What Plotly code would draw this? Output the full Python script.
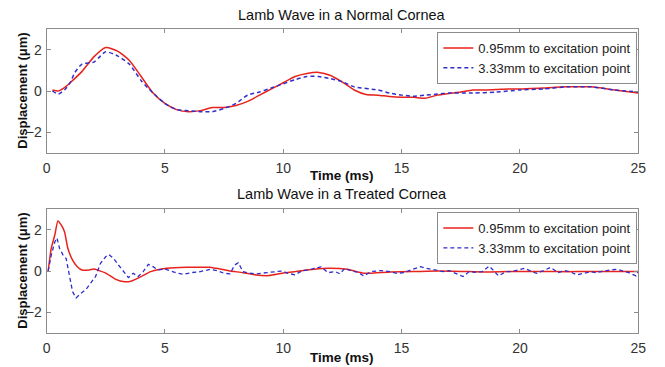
import plotly.graph_objects as go

# ---- Data: Normal cornea ----
t_norm_red = [0.25, 0.5, 0.8, 1.0, 1.5, 2.0, 2.5, 3.0, 3.5, 4.0, 4.5, 5.0, 5.5, 6.0, 6.5, 7.0, 7.5, 8.0, 8.5, 9.0,
              9.5, 10.0, 10.5, 11.0, 11.5, 12.0, 12.5, 13.0, 13.5, 14.0, 14.5, 15.0, 15.5, 16.0, 16.5, 17.0, 17.5,
              18.0, 18.5, 19.0, 19.5, 20.0, 21.0, 22.0, 23.0, 24.0, 25.0]
d_norm_red = [0.05, 0.0, 0.2, 0.4, 0.95, 1.65, 2.1, 1.93, 1.48, 0.7, -0.1, -0.6, -0.9, -1.0, -0.95, -0.8, -0.8, -0.7,
              -0.5, -0.2, 0.1, 0.4, 0.7, 0.85, 0.9, 0.75, 0.43, 0.05, -0.17, -0.2, -0.27, -0.3, -0.3, -0.35, -0.2,
              -0.12, -0.05, 0.05, 0.05, 0.07, 0.1, 0.1, 0.15, 0.2, 0.2, 0.05, -0.1]

t_norm_blue = [0.25, 0.5, 0.8, 1.0, 1.2, 1.5, 2.0, 2.2, 2.5, 3.0, 3.5, 4.0, 4.5, 5.0, 5.5, 6.0, 6.5, 7.0, 7.5, 8.0,
               8.5, 9.0, 9.5, 10.0, 10.5, 11.0, 11.5, 12.0, 12.5, 13.0, 14.0, 14.5, 15.0, 15.5, 16.0, 16.5, 17.0,
               18.0, 19.0, 20.0, 21.0, 22.0, 23.0, 24.0, 25.0]
d_norm_blue = [0.0, -0.15, 0.1, 0.4, 0.9, 1.3, 1.4, 1.6, 1.9, 1.7, 1.3, 0.5, -0.1, -0.6, -0.9, -0.95, -1.0, -1.0,
               -0.85, -0.6, -0.2, -0.05, 0.15, 0.35, 0.55, 0.7, 0.7, 0.6, 0.45, 0.2, 0.05, -0.1, -0.2, -0.25, -0.2,
               -0.15, -0.1, -0.1, -0.05, 0.05, 0.1, 0.2, 0.2, 0.05, -0.05]

# ---- Data: Treated cornea ----
t_treat_red = [0.07, 0.2, 0.35, 0.48, 0.62, 0.76, 0.9, 1.1, 1.3, 1.5, 1.8, 2.0, 2.2, 2.5, 2.9, 3.3, 3.6, 4.0, 4.4,
               4.85, 5.4, 5.95, 6.5, 6.9, 7.75, 8.3, 8.85, 9.4, 9.95, 10.5, 11.3, 11.9, 12.7, 13.4, 14.5, 15.5,
               16.5, 17.5, 18.5, 19.5, 20.5, 21.5, 22.5, 23.5, 24.5, 25.0]
d_treat_red = [0.0, 1.1, 1.74, 2.42, 2.23, 1.9, 1.1, 0.53, 0.21, 0.05, 0.05, 0.1, 0.03, -0.1, -0.39, -0.52, -0.48,
               -0.27, -0.03, 0.1, 0.16, 0.18, 0.18, 0.18, 0.0, -0.08, -0.19, -0.22, -0.11, -0.03, 0.08, 0.13, 0.08,
               -0.11, -0.05, -0.03, 0.0, -0.02, -0.05, -0.03, -0.02, -0.03, -0.03, -0.03, -0.03, -0.03]

t_treat_blue = [0.07, 0.2, 0.35, 0.44, 0.55, 0.7, 0.83, 0.97, 1.1, 1.25, 1.45, 1.66, 1.87, 2.07, 2.28, 2.5, 2.63,
                2.84, 3.04, 3.25, 3.46, 3.66, 3.87, 4.08, 4.3, 4.5, 4.7, 5.0, 5.25, 5.53, 5.8, 6.1, 6.5, 6.9, 7.2,
                7.5, 7.75, 7.95, 8.1, 8.3, 8.6, 8.85, 9.3, 9.7, 9.95, 10.2, 10.5, 10.8, 11.1, 11.3, 11.6, 11.9,
                12.2, 12.4, 12.6, 12.9, 13.15, 13.4, 13.7, 14.1, 14.5, 14.8, 15.1, 15.4, 15.8, 16.05, 16.5, 16.75,
                17.0, 17.3, 17.6, 17.85, 18.1, 18.4, 18.7, 19.1, 19.4, 19.65, 19.9, 20.2, 20.5, 20.7, 21.0, 21.3,
                21.6, 21.9, 22.1, 22.4, 22.7, 23.0, 23.2, 23.5, 23.8, 24.1, 24.3, 24.6, 24.9, 25.0]
d_treat_blue = [0.0, 0.77, 1.4, 1.6, 1.1, 0.77, 0.6, -0.19, -1.0, -1.3, -1.08, -0.9, -0.6, -0.27, 0.37, 0.69, 0.8,
                0.6, 0.29, 0.0, -0.32, -0.11, -0.27, -0.03, 0.32, 0.21, 0.05, 0.1, 0.0, -0.11, -0.16, -0.08,
                -0.03, 0.08, 0.02, -0.11, -0.14, 0.29, 0.4, -0.03, -0.11, -0.14, -0.08, -0.03, 0.0, -0.11, -0.19,
                0.02, 0.05, 0.13, 0.2, -0.08, -0.03, -0.14, 0.13, 0.0, -0.06, -0.24, -0.03, 0.02, -0.03, -0.11,
                -0.08, 0.05, 0.21, 0.13, 0.05, -0.03, 0.02, -0.11, -0.27, -0.03, -0.06, -0.03, 0.24, -0.24,
                -0.03, -0.03, 0.05, 0.13, -0.03, -0.11, 0.02, 0.18, -0.08, 0.02, -0.03, -0.19, -0.11, -0.03,
                -0.08, 0.0, 0.05, 0.08, 0.02, -0.08, -0.24, -0.03]

x_ticks = [0, 5, 10, 15, 20, 25]
y_ticks = [-2, 0, 2]
label_red = "0.95mm to excitation point"
label_blue = "3.33mm to excitation point"
titles = ["Lamb Wave in a Normal Cornea", "Lamb Wave in a Treated Cornea"]
x_label = "Time (ms)"
y_label = "Displacement (\u03bcm)"

RED = "#e8221c"
BLUE = "#2e2ecc"
FONT = "Liberation Sans, Arial, sans-serif"
W, H = 665, 367

fig = go.Figure()
fig.add_trace(go.Scatter(x=t_norm_red, y=d_norm_red, mode="lines", name=label_red,
                         line=dict(color=RED, width=1.5, shape="spline", smoothing=0.6),
                         xaxis="x", yaxis="y", legend="legend"))
fig.add_trace(go.Scatter(x=t_norm_blue, y=d_norm_blue, mode="lines", name=label_blue,
                         line=dict(color=BLUE, width=1.5, dash="4px,3px", shape="spline", smoothing=0.6),
                         xaxis="x", yaxis="y", legend="legend"))
fig.add_trace(go.Scatter(x=t_treat_red, y=d_treat_red, mode="lines", name=label_red,
                         line=dict(color=RED, width=1.5, shape="spline", smoothing=0.5),
                         xaxis="x2", yaxis="y2", legend="legend2"))
fig.add_trace(go.Scatter(x=t_treat_blue, y=d_treat_blue, mode="lines", name=label_blue,
                         line=dict(color=BLUE, width=1.3, dash="4px,3px"),
                         xaxis="x2", yaxis="y2", legend="legend2"))

x0, x1 = 43.3 / W, 646 / W
top_dom = [1 - 153 / H, 1 - 29 / H]
bot_dom = [1 - 333 / H, 1 - 209 / H]

axis_common = dict(showline=True, linecolor="#8c8c8c", linewidth=1, mirror="ticks",
                   ticks="inside", ticklen=4, tickcolor="#8c8c8c", showgrid=False, zeroline=False,
                   tickfont=dict(family=FONT, size=14, color="#333333"))

xa = dict(axis_common, range=[0, 25], tickvals=x_ticks, domain=[x0, x1], ticklabelstandoff=2)
ya = dict(axis_common, range=[-3, 3], tickvals=y_ticks, domain=top_dom, ticklabelstandoff=1)

legend_common = dict(xanchor="right", yanchor="top", bgcolor="white", bordercolor="#8c8c8c",
                     borderwidth=1, font=dict(family=FONT, size=13, color="#222222"),
                     tracegroupgap=0, itemwidth=30)

fig.update_layout(
    width=W, height=H,
    margin=dict(l=0, r=0, t=0, b=0),
    paper_bgcolor="white", plot_bgcolor="white",
    xaxis=dict(xa, anchor="y"),
    yaxis=dict(ya, anchor="x"),
    xaxis2=dict(xa, anchor="y2"),
    yaxis2=dict(ya, domain=bot_dom, anchor="x2"),
    legend=dict(legend_common, x=645 / W, y=1 - 32 / H),
    legend2=dict(legend_common, x=645 / W, y=1 - 212 / H),
    showlegend=True,
)

cx = (x0 + x1) / 2
ann = []
for title, ty in [(titles[0], 15), (titles[1], 194)]:
    ann.append(dict(text=title, x=cx, y=1 - ty / H, xref="paper", yref="paper", showarrow=False,
                    xanchor="center", yanchor="middle", font=dict(family=FONT, size=14.5, color="#111111")))
for ly in [175, 357]:
    ann.append(dict(text="<b>" + x_label + "</b>", x=cx, y=1 - ly / H, xref="paper", yref="paper",
                    showarrow=False, xanchor="center", yanchor="middle",
                    font=dict(family=FONT, size=13.5, color="#111111")))
for cy in [91, 271]:
    ann.append(dict(text="<b>" + y_label + "</b>", x=18 / W, y=1 - cy / H, xref="paper", yref="paper",
                    showarrow=False, xanchor="center", yanchor="middle", textangle=-90,
                    font=dict(family=FONT, size=13, color="#111111")))
fig.update_layout(annotations=ann)

fig.write_html("out.html", config={"displayModeBar": False, "responsive": False},
               post_script="document.body.style.margin='0';document.body.style.overflow='hidden';")
